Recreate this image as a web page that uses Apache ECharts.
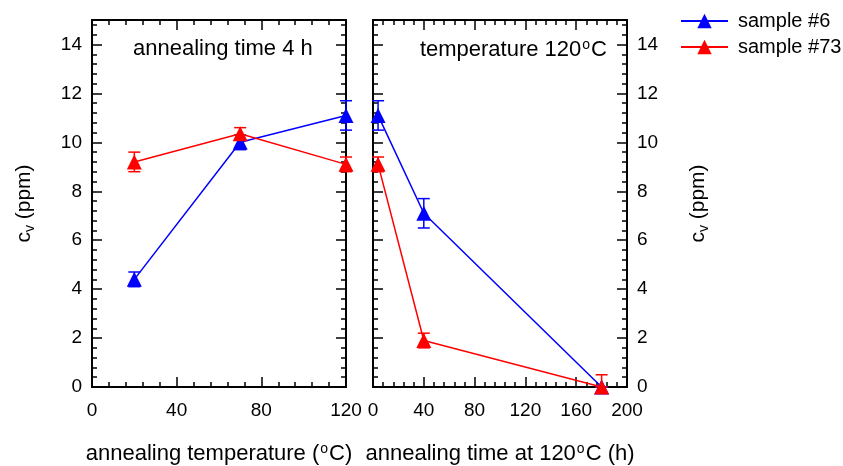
<!DOCTYPE html>
<html><head><meta charset="utf-8">
<script src="https://cdn.jsdelivr.net/npm/echarts@6/dist/echarts.min.js"></script>
<style>html,body{margin:0;padding:0;background:#fff}#c{width:843px;height:466px}</style>
</head><body><div id="c"></div>
<script>
// ---- data ----
const tempX = [20, 70, 120];
const s6Temp = [4.4, 10.0, 11.1];
const s6TempErr = [0.3, 0.3, 0.6];
const s73Temp = [9.2, 10.35, 9.1];
const s73TempErr = [0.4, 0.25, 0.3];
const timeX = [4, 40, 180];
const s6Time = [11.1, 7.1, 0];
const s6TimeErr = [0.6, 0.6, 0];
const s73Time = [9.1, 1.9, 0];
const s73TimeErr = [0.3, 0.3, 0.5];
const seriesNames = ['sample #6', 'sample #73'];
const colors = ['#0000ff', '#ff0000'];
const yMax = 15, yMajor = 2, yMinor = 0.4;
const xTempMax = 120, xTimeMax = 200, xMajor = 40;

const FONT = 'Liberation Sans, Arial, sans-serif';
const chart = echarts.init(document.getElementById('c'), null, {renderer: 'canvas'});

const supRich = {sup: {fontSize: 14, fontFamily: FONT, color: '#000', verticalAlign: 'top', padding: [0, 1, 9, 1]}};
const subRich = {sub: {fontSize: 14, fontFamily: FONT, color: '#000', padding: [11, 0, 0, 0]}};

const lineStyle = {color: '#000', width: 2};

function xAxis(grid, pos, max, showLabel, name) {
  return {
    type: 'value', gridIndex: grid, position: pos, min: 0, max: max, interval: xMajor,
    axisLine: {show: true, onZero: false, lineStyle: lineStyle},
    axisTick: {show: true, inside: true, length: 10, lineStyle: {color: '#000', width: 1.5}},
    minorTick: {show: true, splitNumber: 5, length: 5, lineStyle: {color: '#000', width: 1.5}},
    splitLine: {show: false}, minorSplitLine: {show: false},
    axisLabel: {show: showLabel, margin: 14, fontSize: 19, color: '#000', fontFamily: FONT},
    name: name || '', nameLocation: 'middle', nameGap: 55,
    nameTextStyle: {fontSize: 22, color: '#000', fontFamily: FONT, rich: supRich}
  };
}
function yAxis(grid, pos, minor, showLabel, name) {
  return {
    type: 'value', gridIndex: grid, position: pos, min: 0, max: yMax,
    interval: minor ? yMinor : yMajor,
    axisLine: {show: true, onZero: false, lineStyle: lineStyle},
    axisTick: {show: true, inside: true, length: minor ? 5 : 10, lineStyle: {color: '#000', width: 1.5}},
    splitLine: {show: false},
    axisLabel: {show: showLabel && !minor, showMaxLabel: false, margin: 10, fontSize: 19, color: '#000', fontFamily: FONT,
      formatter: v => (v % yMajor === 0 ? String(v) : '')},
    name: name || '', nameLocation: 'middle', nameGap: pos === 'left' ? 55 : 59,
    nameTextStyle: {fontSize: 21, color: '#000', fontFamily: FONT, rich: subRich}
  };
}

const yName = 'c{sub|v} (ppm)';

function errSeries(xi, yi, xs, ys, es, color) {
  return {
    type: 'custom', xAxisIndex: xi, yAxisIndex: yi, clip: false, silent: true,
    data: xs.map((x, i) => [x, ys[i], es[i]]),
    renderItem: function (params, api) {
      const x = api.value(0), y = api.value(1), e = api.value(2);
      const top = api.coord([x, y + e]);
      const bot = api.coord([x, Math.max(y - e, 0)]);
      const hw = 6;
      const st = {stroke: color, lineWidth: 1.5};
      return {type: 'group', children: [
        {type: 'line', shape: {x1: top[0], y1: top[1], x2: bot[0], y2: bot[1]}, style: st},
        {type: 'line', shape: {x1: top[0] - hw, y1: top[1], x2: top[0] + hw, y2: top[1]}, style: st},
        {type: 'line', shape: {x1: bot[0] - hw, y1: bot[1], x2: bot[0] + hw, y2: bot[1]}, style: st}
      ]};
    }
  };
}
function lineSeries(xi, yi, xs, ys, color, name) {
  return {
    type: 'line', name: name, xAxisIndex: xi, yAxisIndex: yi, clip: false,
    data: xs.map((x, i) => [x, ys[i]]),
    symbol: 'triangle', symbolSize: 15, showAllSymbol: true,
    itemStyle: {color: color}, lineStyle: {color: color, width: 1.5},
    emphasis: {disabled: true}, animation: false
  };
}

const option = {
  animation: false,
  backgroundColor: '#fff',
  grid: [
    {left: 92, top: 20, width: 254, height: 367, outerBoundsMode: 'none', containLabel: false},
    {left: 373, top: 20, width: 254, height: 367, outerBoundsMode: 'none', containLabel: false}
  ],
  xAxis: [
    xAxis(0, 'bottom', xTempMax, true, 'annealing temperature ({sup|o}C)'),
    xAxis(0, 'top', xTempMax, false),
    xAxis(1, 'bottom', xTimeMax, true, 'annealing time at 120{sup|o}C (h)'),
    xAxis(1, 'top', xTimeMax, false)
  ],
  yAxis: [
    yAxis(0, 'left', false, true, yName),
    yAxis(0, 'left', true, false),
    yAxis(0, 'right', false, false),
    yAxis(0, 'right', true, false),
    yAxis(1, 'left', false, false),
    yAxis(1, 'left', true, false),
    yAxis(1, 'right', false, true, yName),
    yAxis(1, 'right', true, false)
  ],
  legend: {
    orient: 'vertical', left: 675, top: 6, itemWidth: 47, itemHeight: 18, itemGap: 6,
    data: seriesNames,
    textStyle: {fontSize: 20, color: '#000', fontFamily: FONT, lineHeight: 20, padding: [0, 0, 0, 5]}
  },
  graphic: [
    {type: 'text', x: 133, y: 49, style: {text: 'annealing time 4 h', font: '22px ' + FONT, fill: '#000', textVerticalAlign: 'middle'}},
    {type: 'text', x: 607, y: 50, style: {text: 'temperature 120{sup|o}C', fontSize: 22, fontFamily: FONT, fill: '#000', align: 'right', verticalAlign: 'middle', rich: {sup: {fontSize: 14, fontFamily: FONT, fill: '#000', verticalAlign: 'top', padding: [0, 1, 9, 1]}}}}
  ],
  series: [
    errSeries(0, 0, tempX, s6Temp, s6TempErr, colors[0]),
    lineSeries(0, 0, tempX, s6Temp, colors[0], seriesNames[0]),
    errSeries(2, 4, timeX, s6Time, s6TimeErr, colors[0]),
    lineSeries(2, 4, timeX, s6Time, colors[0], seriesNames[0]),
    errSeries(0, 0, tempX, s73Temp, s73TempErr, colors[1]),
    lineSeries(0, 0, tempX, s73Temp, colors[1], seriesNames[1]),
    errSeries(2, 4, timeX, s73Time, s73TimeErr, colors[1]),
    lineSeries(2, 4, timeX, s73Time, colors[1], seriesNames[1])
  ]
};
chart.setOption(option);
</script></body></html>
